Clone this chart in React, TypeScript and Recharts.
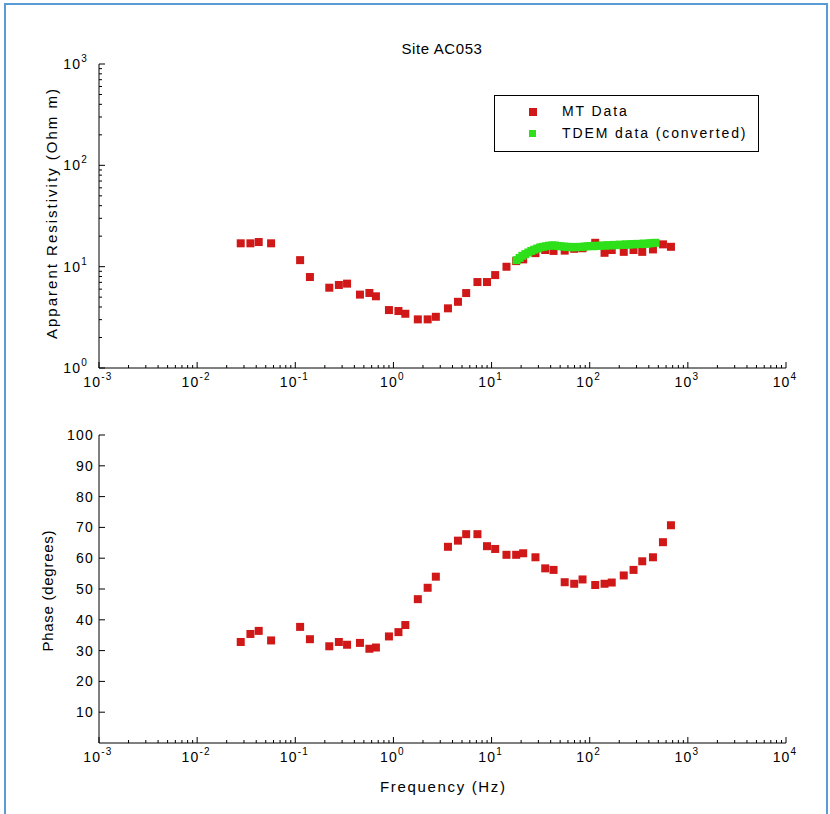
import React from 'react';
import { ScatterChart, Scatter, XAxis, YAxis } from 'recharts';

// MT sounding at site AC053: frequency (Hz), apparent resistivity (Ohm m), phase (deg)
const mtFrequency = [
  0.0278, 0.0349, 0.0424, 0.0567, 0.112, 0.141, 0.222, 0.278, 0.337, 0.456,
  0.569, 0.663, 0.9, 1.125, 1.322, 1.773, 2.232, 2.705, 3.594, 4.545,
  5.51, 7.18, 8.98, 10.88, 14.19, 17.81, 21.0, 28.0, 35.2, 42.8,
  55.6, 69.5, 84.5, 113.8, 141.6, 167.6, 222.2, 279.6, 343, 440.9,
  557.4, 672.6,
];
const mtResistivity = [
  17.0, 17.0, 17.5, 17.0, 11.6, 7.9, 6.2, 6.6, 6.8, 5.3,
  5.5, 5.1, 3.73, 3.65, 3.43, 3.02, 3.02, 3.2, 3.88, 4.5,
  5.49, 7.05, 7.05, 8.26, 9.98, 11.35, 11.8, 13.6, 14.6, 14.3,
  14.4, 15.0, 15.2, 17.2, 13.7, 14.6, 14.0, 14.6, 14.0, 14.8,
  16.6, 15.7,
];
const mtPhase = [
  32.8, 35.4, 36.4, 33.3, 37.7, 33.7, 31.4, 32.8, 31.9, 32.5,
  30.6, 31.0, 34.6, 36.0, 38.3, 46.7, 50.4, 54.0, 63.7, 65.7,
  67.8, 67.8, 63.9, 63.0, 61.1, 61.1, 61.6, 60.3, 56.7, 56.2,
  52.2, 51.7, 53.1, 51.3, 51.7, 52.1, 54.4, 56.2, 59.0, 60.3,
  65.2, 70.7,
];

// TDEM transient converted to equivalent apparent resistivity
const tdemFrequency = [
  18.0, 19.3, 20.6, 22.1, 23.7, 25.4, 27.2, 29.2, 31.3, 33.5,
  35.9, 38.5, 41.3, 44.2, 47.4, 50.8, 54.5, 58.4, 62.6, 67.1,
  71.9, 77.1, 82.6, 88.5, 94.9, 101.7, 109, 117, 125, 134,
  144, 154, 165, 177, 190, 203, 218, 234, 250, 268,
  288, 308, 331, 354, 380, 407, 436, 468,
];
const tdemResistivity = [
  11.6, 12.2, 12.8, 13.3, 13.8, 14.3, 14.7, 15.1, 15.5, 15.7,
  15.9, 16.1, 16.2, 16.2, 16.0, 15.9, 15.8, 15.6, 15.7, 15.5,
  15.6, 15.7, 15.6, 15.8, 15.9, 16.0, 15.9, 16.1, 16.0, 16.2,
  16.1, 16.3, 16.2, 16.4, 16.3, 16.5, 16.4, 16.6, 16.5, 16.7,
  16.6, 16.8, 16.7, 16.9, 16.8, 17.0, 17.1, 17.2,
];

const freqDecades = [1e-3, 1e-2, 1e-1, 1, 10, 100, 1000, 10000];
const resistivityDecades = [1, 10, 100, 1000];
const phaseTicks = [10, 20, 30, 40, 50, 60, 70, 80, 90, 100];

const FONT = '"Liberation Sans", Arial, Helvetica, sans-serif';
const RED = '#d01818';
const GREEN = '#2ee01a';

// decades plus the 2..9 minor marks between them
const withMinors = (decades: number[]) => {
  const out: number[] = [];
  decades.forEach((d, i) => {
    out.push(d);
    if (i < decades.length - 1) for (let m = 2; m <= 9; m++) out.push(d * m);
  });
  return out;
};
const freqTicks = withMinors(freqDecades);
const resistivityTicks = withMinors(resistivityDecades);

const isDecade = (v: number) => {
  const l = Math.log10(v);
  return Math.abs(l - Math.round(l)) < 1e-9;
};

const Pow = ({ x, y, exp, anchor }: any) => (
  <text x={x} y={y} textAnchor={anchor} fontFamily={FONT} fontSize={14} letterSpacing={1.2} fill="#000">
    10
    <tspan dy={-7} fontSize={10}>{exp}</tspan>
  </text>
);

const FreqTick = ({ x, y, payload }: any) => {
  const major = isDecade(payload.value);
  return (
    <g>
      <line x1={x} y1={y} x2={x} y2={y - (major ? 6 : 3)} stroke="#000" />
      {major && <Pow x={x - 1} y={y + 19} exp={Math.round(Math.log10(payload.value))} anchor="middle" />}
    </g>
  );
};

const FreqTopTick = ({ x, y, payload }: any) => (
  <line x1={x} y1={y} x2={x} y2={y + (isDecade(payload.value) ? 6 : 3)} stroke="#000" />
);

const LogYTick = ({ x, y, payload }: any) => {
  const major = isDecade(payload.value);
  return (
    <g>
      <line x1={x} y1={y} x2={x + (major ? 6 : 3)} y2={y} stroke="#000" />
      {major && <Pow x={x - 11} y={y + 5} exp={Math.round(Math.log10(payload.value))} anchor="end" />}
    </g>
  );
};

const LogYRightTick = ({ x, y, payload }: any) => (
  <line x1={x} y1={y} x2={x - (isDecade(payload.value) ? 6 : 3)} y2={y} stroke="#000" />
);

const PhaseTick = ({ x, y, payload }: any) => (
  <g>
    <line x1={x} y1={y} x2={x + 6} y2={y} stroke="#000" />
    <text x={x - 5} y={y + 5} textAnchor="end" fontFamily={FONT} fontSize={14} letterSpacing={1.2} fill="#000">
      {payload.value}
    </text>
  </g>
);

const PhaseRightTick = ({ x, y }: any) => <line x1={x} y1={y} x2={x - 6} y2={y} stroke="#000" />;

// fixed-position caption used for axis titles
const Caption = ({ px, py, rot, txt, len }: any) => (
  <text
    x={px}
    y={py}
    textAnchor="middle"
    dominantBaseline="central"
    transform={rot ? `rotate(${rot} ${px} ${py})` : undefined}
    fontFamily={FONT}
    fontSize={15}
    fill="#000"
    textLength={len}
    lengthAdjust="spacing"
  >
    {txt}
  </text>
);

const square = (color: string, s: number) => (props: any) => (
  <rect x={props.cx - s / 2} y={props.cy - s / 2} width={s} height={s} fill={color} />
);

const axisLine = { stroke: '#000', strokeWidth: 1 };

export default function App() {
  const rhoData = mtFrequency.map((f, i) => ({ f, v: mtResistivity[i] }));
  const tdemData = tdemFrequency.map((f, i) => ({ f, v: tdemResistivity[i] }));
  const phaseData = mtFrequency.map((f, i) => ({ f, v: mtPhase[i] }));

  const freqAxis = {
    type: 'number' as const,
    scale: 'log' as const,
    domain: [1e-3, 1e4],
    ticks: freqTicks,
    interval: 0,
    tickSize: 0,
    tickMargin: 0,
    tickLine: false,
    axisLine,
    allowDataOverflow: true,
  };

  return (
    <div style={{ position: 'absolute', left: 0, top: 0, width: 830, height: 814, overflow: 'hidden', background: '#fff', fontFamily: FONT }}>
      <div style={{ position: 'absolute', left: 4, top: 3, width: 820, height: 840, border: '2px solid #5b9bd5' }} />

      <div
        style={{
          position: 'absolute',
          left: 342,
          top: 40,
          width: 200,
          textAlign: 'center',
          fontSize: 15,
          lineHeight: '18px',
          letterSpacing: 0.6,
          color: '#000',
        }}
      >
        Site AC053
      </div>

      <div style={{ position: 'absolute', left: 0, top: 0 }}>
        <ScatterChart width={830} height={400} margin={{ top: 64, right: 44, bottom: 0, left: 0 }}>
          <XAxis {...freqAxis} dataKey="f" height={32} tick={(p: any) => <FreqTick {...p} />} />
          <XAxis {...freqAxis} xAxisId="top" orientation="top" height={0} tick={(p: any) => <FreqTopTick {...p} />} />
          <YAxis
            dataKey="v"
            type="number"
            scale="log"
            domain={[1, 1000]}
            ticks={resistivityTicks}
            interval={0}
            width={99}
            tickSize={0}
            tickMargin={0}
            tickLine={false}
            axisLine={axisLine}
            allowDataOverflow
            tick={(p: any) => <LogYTick {...p} />}
            label={<Caption px={51} py={214} rot={-90} txt="Apparent Resistivity (Ohm m)" len={250} />}
          />
          <YAxis
            yAxisId="right"
            orientation="right"
            type="number"
            scale="log"
            domain={[1, 1000]}
            ticks={resistivityTicks}
            interval={0}
            width={0}
            tickSize={0}
            tickMargin={0}
            tickLine={false}
            axisLine={axisLine}
            allowDataOverflow
            tick={(p: any) => <LogYRightTick {...p} />}
          />
          <Scatter name="MT Data" data={rhoData} shape={square(RED, 8)} isAnimationActive={false} />
          <Scatter name="TDEM data (converted)" data={tdemData} shape={square(GREEN, 8)} isAnimationActive={false} />
        </ScatterChart>
      </div>

      <div style={{ position: 'absolute', left: 0, top: 400 }}>
        <ScatterChart width={830} height={414} margin={{ top: 35, right: 44, bottom: 0, left: 0 }}>
          <XAxis
            {...freqAxis}
            dataKey="f"
            height={71}
            tick={(p: any) => <FreqTick {...p} />}
            label={<Caption px={442.5} py={386} txt="Frequency (Hz)" len={125} />}
          />
          <XAxis {...freqAxis} xAxisId="top" orientation="top" height={0} tick={(p: any) => <FreqTopTick {...p} />} />
          <YAxis
            dataKey="v"
            type="number"
            domain={[0, 100]}
            ticks={phaseTicks}
            interval={0}
            width={99}
            tickSize={0}
            tickMargin={0}
            tickLine={false}
            axisLine={axisLine}
            allowDataOverflow
            tick={(p: any) => <PhaseTick {...p} />}
            label={<Caption px={47} py={191} rot={-90} txt="Phase (degrees)" len={121} />}
          />
          <YAxis
            yAxisId="right"
            orientation="right"
            type="number"
            domain={[0, 100]}
            ticks={phaseTicks}
            interval={0}
            width={0}
            tickSize={0}
            tickMargin={0}
            tickLine={false}
            axisLine={axisLine}
            allowDataOverflow
            tick={(p: any) => <PhaseRightTick {...p} />}
          />
          <Scatter name="MT Data" data={phaseData} shape={square(RED, 8)} isAnimationActive={false} />
        </ScatterChart>
      </div>

      <div
        style={{
          position: 'absolute',
          left: 494,
          top: 95,
          width: 265,
          height: 57,
          boxSizing: 'border-box',
          border: '1px solid #000',
          background: '#fff',
          fontSize: 14,
          letterSpacing: 1.9,
          color: '#000',
        }}
      >
        <div style={{ position: 'absolute', left: 34, top: 12, width: 8, height: 8, background: RED }} />
        <div style={{ position: 'absolute', left: 67, top: 7, lineHeight: '16px' }}>MT Data</div>
        <div style={{ position: 'absolute', left: 34, top: 34, width: 7, height: 7, background: GREEN }} />
        <div style={{ position: 'absolute', left: 67, top: 29, lineHeight: '16px', whiteSpace: 'nowrap' }}>TDEM data (converted)</div>
      </div>
    </div>
  );
}
